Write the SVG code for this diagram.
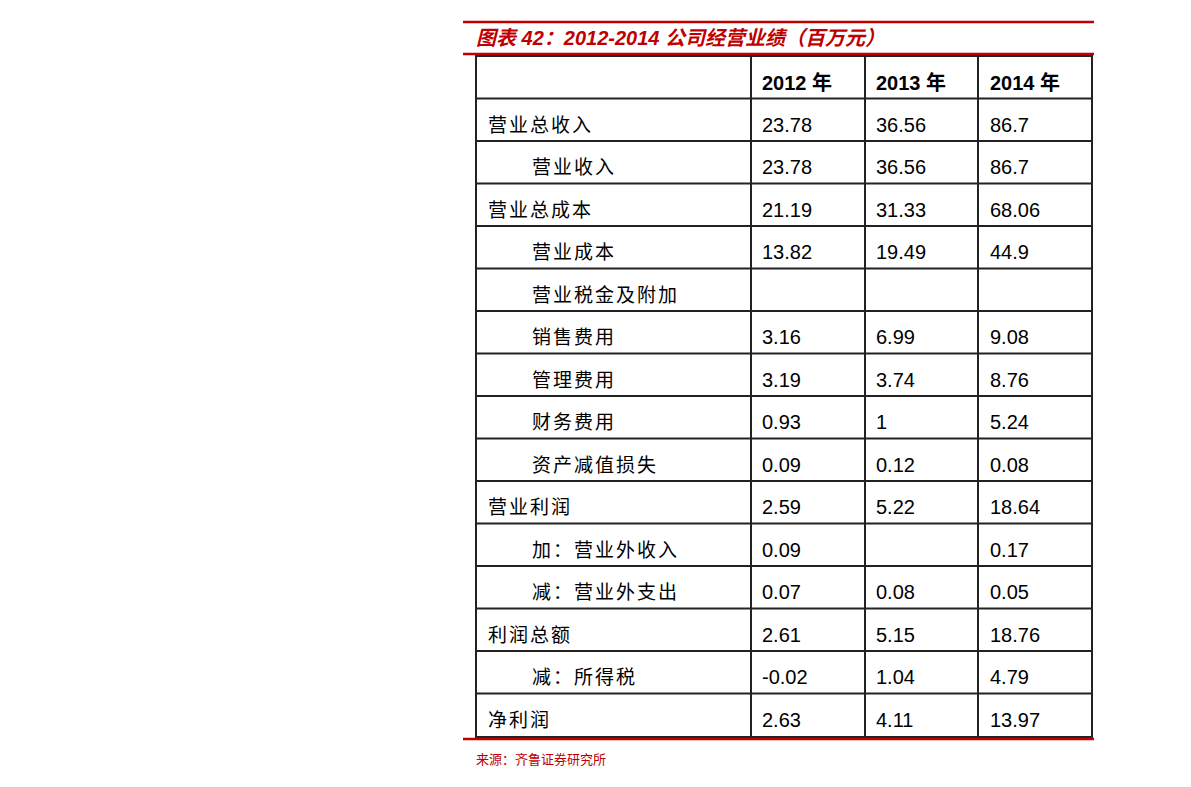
<svg xmlns="http://www.w3.org/2000/svg" width="1191" height="787" viewBox="0 0 1191 787">
<style>
.t{font-family:"Liberation Sans","Noto Sans CJK SC",sans-serif;font-size:20px;fill:#000}
.c{font-family:"Noto Sans CJK SC",sans-serif;font-size:19px;fill:#000;letter-spacing:2px}
.h{font-family:"Liberation Sans","Noto Sans CJK SC",sans-serif;font-size:20px;font-weight:bold;fill:#000}
.g{stroke:#222;stroke-width:2;fill:none}
.r{stroke:#c00000;stroke-width:2.5}
</style>
<rect width="1191" height="787" fill="#fff"/>
<g id="title">
<line class="r" x1="463" y1="22" x2="1094" y2="22"/>
<text x="476" y="45" font-family="Liberation Sans,Noto Sans CJK SC,sans-serif" font-size="20" font-weight="bold" font-style="italic" fill="#c00000">图表 42：2012-2014 公司经营业绩（百万元）</text>
<line class="r" x1="463" y1="54" x2="1094" y2="54"/>
</g>
<g id="grid">
<rect class="g" x="476" y="56" width="616" height="681"/>
<line class="g" x1="751" y1="56" x2="751" y2="737"/>
<line class="g" x1="865" y1="56" x2="865" y2="737"/>
<line class="g" x1="978" y1="56" x2="978" y2="737"/>
<path class="g" d="M476 98.5H1092M476 141H1092M476 183.5H1092M476 226H1092M476 268.5H1092M476 311H1092M476 353.5H1092M476 396H1092M476 438.5H1092M476 481H1092M476 523.5H1092M476 566H1092M476 608.5H1092M476 651H1092M476 693.5H1092"/>
<line class="r" x1="463" y1="739" x2="1094" y2="739"/>
</g>
<g id="header">
<text class="h" x="762" y="90">2012 年</text>
<text class="h" x="876" y="90">2013 年</text>
<text class="h" x="990" y="90">2014 年</text>
</g>
<g id="rows">
<text class="c" x="488" y="132">营业总收入</text><text class="t" x="762" y="132">23.78</text><text class="t" x="876" y="132">36.56</text><text class="t" x="990" y="132">86.7</text>
<text class="c" x="532" y="174">营业收入</text><text class="t" x="762" y="174">23.78</text><text class="t" x="876" y="174">36.56</text><text class="t" x="990" y="174">86.7</text>
<text class="c" x="488" y="217">营业总成本</text><text class="t" x="762" y="217">21.19</text><text class="t" x="876" y="217">31.33</text><text class="t" x="990" y="217">68.06</text>
<text class="c" x="532" y="259">营业成本</text><text class="t" x="762" y="259">13.82</text><text class="t" x="876" y="259">19.49</text><text class="t" x="990" y="259">44.9</text>
<text class="c" x="532" y="302">营业税金及附加</text>
<text class="c" x="532" y="344">销售费用</text><text class="t" x="762" y="344">3.16</text><text class="t" x="876" y="344">6.99</text><text class="t" x="990" y="344">9.08</text>
<text class="c" x="532" y="387">管理费用</text><text class="t" x="762" y="387">3.19</text><text class="t" x="876" y="387">3.74</text><text class="t" x="990" y="387">8.76</text>
<text class="c" x="532" y="429">财务费用</text><text class="t" x="762" y="429">0.93</text><text class="t" x="876" y="429">1</text><text class="t" x="990" y="429">5.24</text>
<text class="c" x="532" y="472">资产减值损失</text><text class="t" x="762" y="472">0.09</text><text class="t" x="876" y="472">0.12</text><text class="t" x="990" y="472">0.08</text>
<text class="c" x="488" y="514">营业利润</text><text class="t" x="762" y="514">2.59</text><text class="t" x="876" y="514">5.22</text><text class="t" x="990" y="514">18.64</text>
<text class="c" x="532" y="557">加：营业外收入</text><text class="t" x="762" y="557">0.09</text><text class="t" x="990" y="557">0.17</text>
<text class="c" x="532" y="599">减：营业外支出</text><text class="t" x="762" y="599">0.07</text><text class="t" x="876" y="599">0.08</text><text class="t" x="990" y="599">0.05</text>
<text class="c" x="488" y="642">利润总额</text><text class="t" x="762" y="642">2.61</text><text class="t" x="876" y="642">5.15</text><text class="t" x="990" y="642">18.76</text>
<text class="c" x="532" y="684">减：所得税</text><text class="t" x="762" y="684">-0.02</text><text class="t" x="876" y="684">1.04</text><text class="t" x="990" y="684">4.79</text>
<text class="c" x="488" y="727">净利润</text><text class="t" x="762" y="727">2.63</text><text class="t" x="876" y="727">4.11</text><text class="t" x="990" y="727">13.97</text>
</g>
<g id="source">
<text x="476" y="764" font-family="Noto Sans CJK SC,sans-serif" font-size="13" fill="#c00000">来源：齐鲁证券研究所</text>
</g>
</svg>
